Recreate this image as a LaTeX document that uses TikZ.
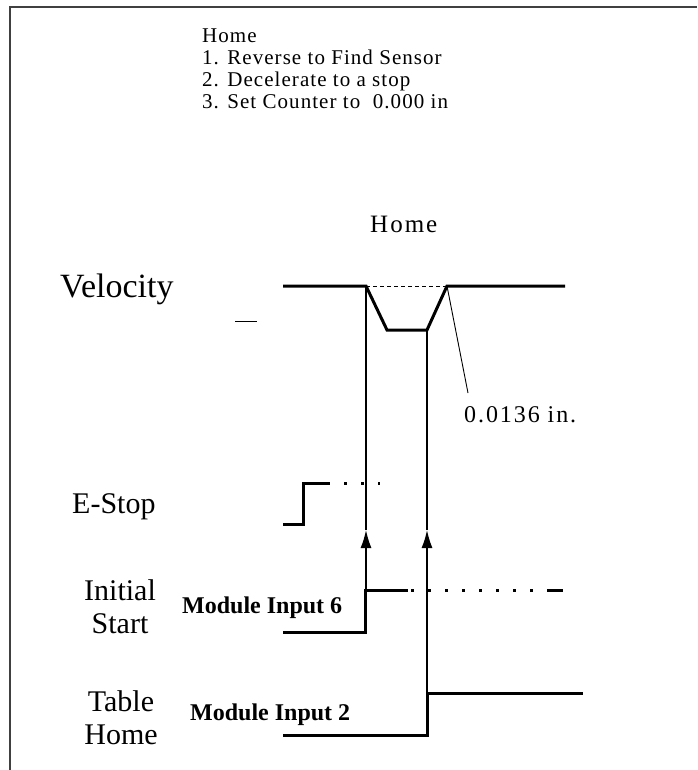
\documentclass[tikz,border=0pt]{standalone}
\usepackage{fontspec}
\setmainfont{Liberation Serif}
\newfontfamily\spacedfont[LetterSpace=8]{Liberation Serif}
\newfontfamily\listfont[LetterSpace=5]{Liberation Serif}
\usetikzlibrary{arrows.meta}
\definecolor{frameGray}{HTML}{404040}

\begin{document}
\begin{tikzpicture}[x=1pt,y=-1pt,
  signal/.style={line width=3pt},
  link/.style={line width=1.4pt},
  leader/.style={line width=0.9pt},
  txt/.style={inner sep=0pt,anchor=base west},
  biglabel/.style={inner sep=0pt,align=center,font=\fontsize{30}{33}\selectfont}]
\useasboundingbox (0,0) rectangle (697,770);
\draw[line width=2pt,frameGray] (10,770) -- (10,7) -- (697,7);
\node[inner sep=0pt,anchor=north west,align=left,font=\listfont\fontsize{21}{22}\selectfont] (steps) at (202,29)
  {Home\\1. Reverse to Find Sensor\\2. Decelerate to a stop\\3. Set Counter to \ 0.000 in};
\node[txt,font=\spacedfont\fontsize{25}{28}\selectfont] (home) at (370,232) {Home};
\node[txt,font=\fontsize{34}{36}\selectfont] (vel) at (60,297) {Velocity};
\node[txt,font=\fontsize{30}{33}\selectfont] (estop) at (72,513) {E-Stop};
\node[biglabel] (init) at (120,607) {Initial\\Start};
\node[biglabel] (table) at (121,718) {Table\\Home};
\node[txt,font=\bfseries\fontsize{24}{26}\selectfont] (mod6) at (182,613) {Module Input 6};
\node[txt,font=\bfseries\fontsize{24}{26}\selectfont] (mod2) at (190,720) {Module Input 2};
\node[txt,font=\spacedfont\fontsize{24}{26}\selectfont] (dist) at (464,422) {0.0136 in.};
\coordinate (vA) at (366,286);
\coordinate (vB) at (427,330);
\coordinate (vC) at (447,286);
\coordinate (sA) at (366,590);
\coordinate (sB) at (427,693);
\draw[signal] (283,286) -- (vA) -- (387,330) -- (vB) -- (vC) -- (565,286);
\draw[leader,dash pattern=on 4pt off 3pt] (vA) -- (vC);
\draw[leader] (vC) -- (468,393);
\draw[leader] (235,321) -- (257,321);
\draw[signal] (283,524) -- (303,524) -- (303,483) -- (327,483);
\draw[signal,dash pattern=on 3pt off 14pt] (327,483) -- (380,483);
\draw[signal] (283,632) -- (365,632) -- (365,590) -- (408,590);
\draw[signal,dash pattern=on 3pt off 14pt] (411,590) -- (548,590);
\draw[signal] (548,590) -- (563,590);
\draw[signal] (283,735) -- (427,735) -- (sB) -- (583,693);
\draw[link,-{Latex[length=18pt,width=11pt]}] (sA) -- (366,530);
\draw[link] (366,530) -- (vA);
\draw[link,-{Latex[length=18pt,width=11pt]}] (sB) -- (427,530);
\draw[link] (427,530) -- (vB);
\end{tikzpicture}
\end{document}
